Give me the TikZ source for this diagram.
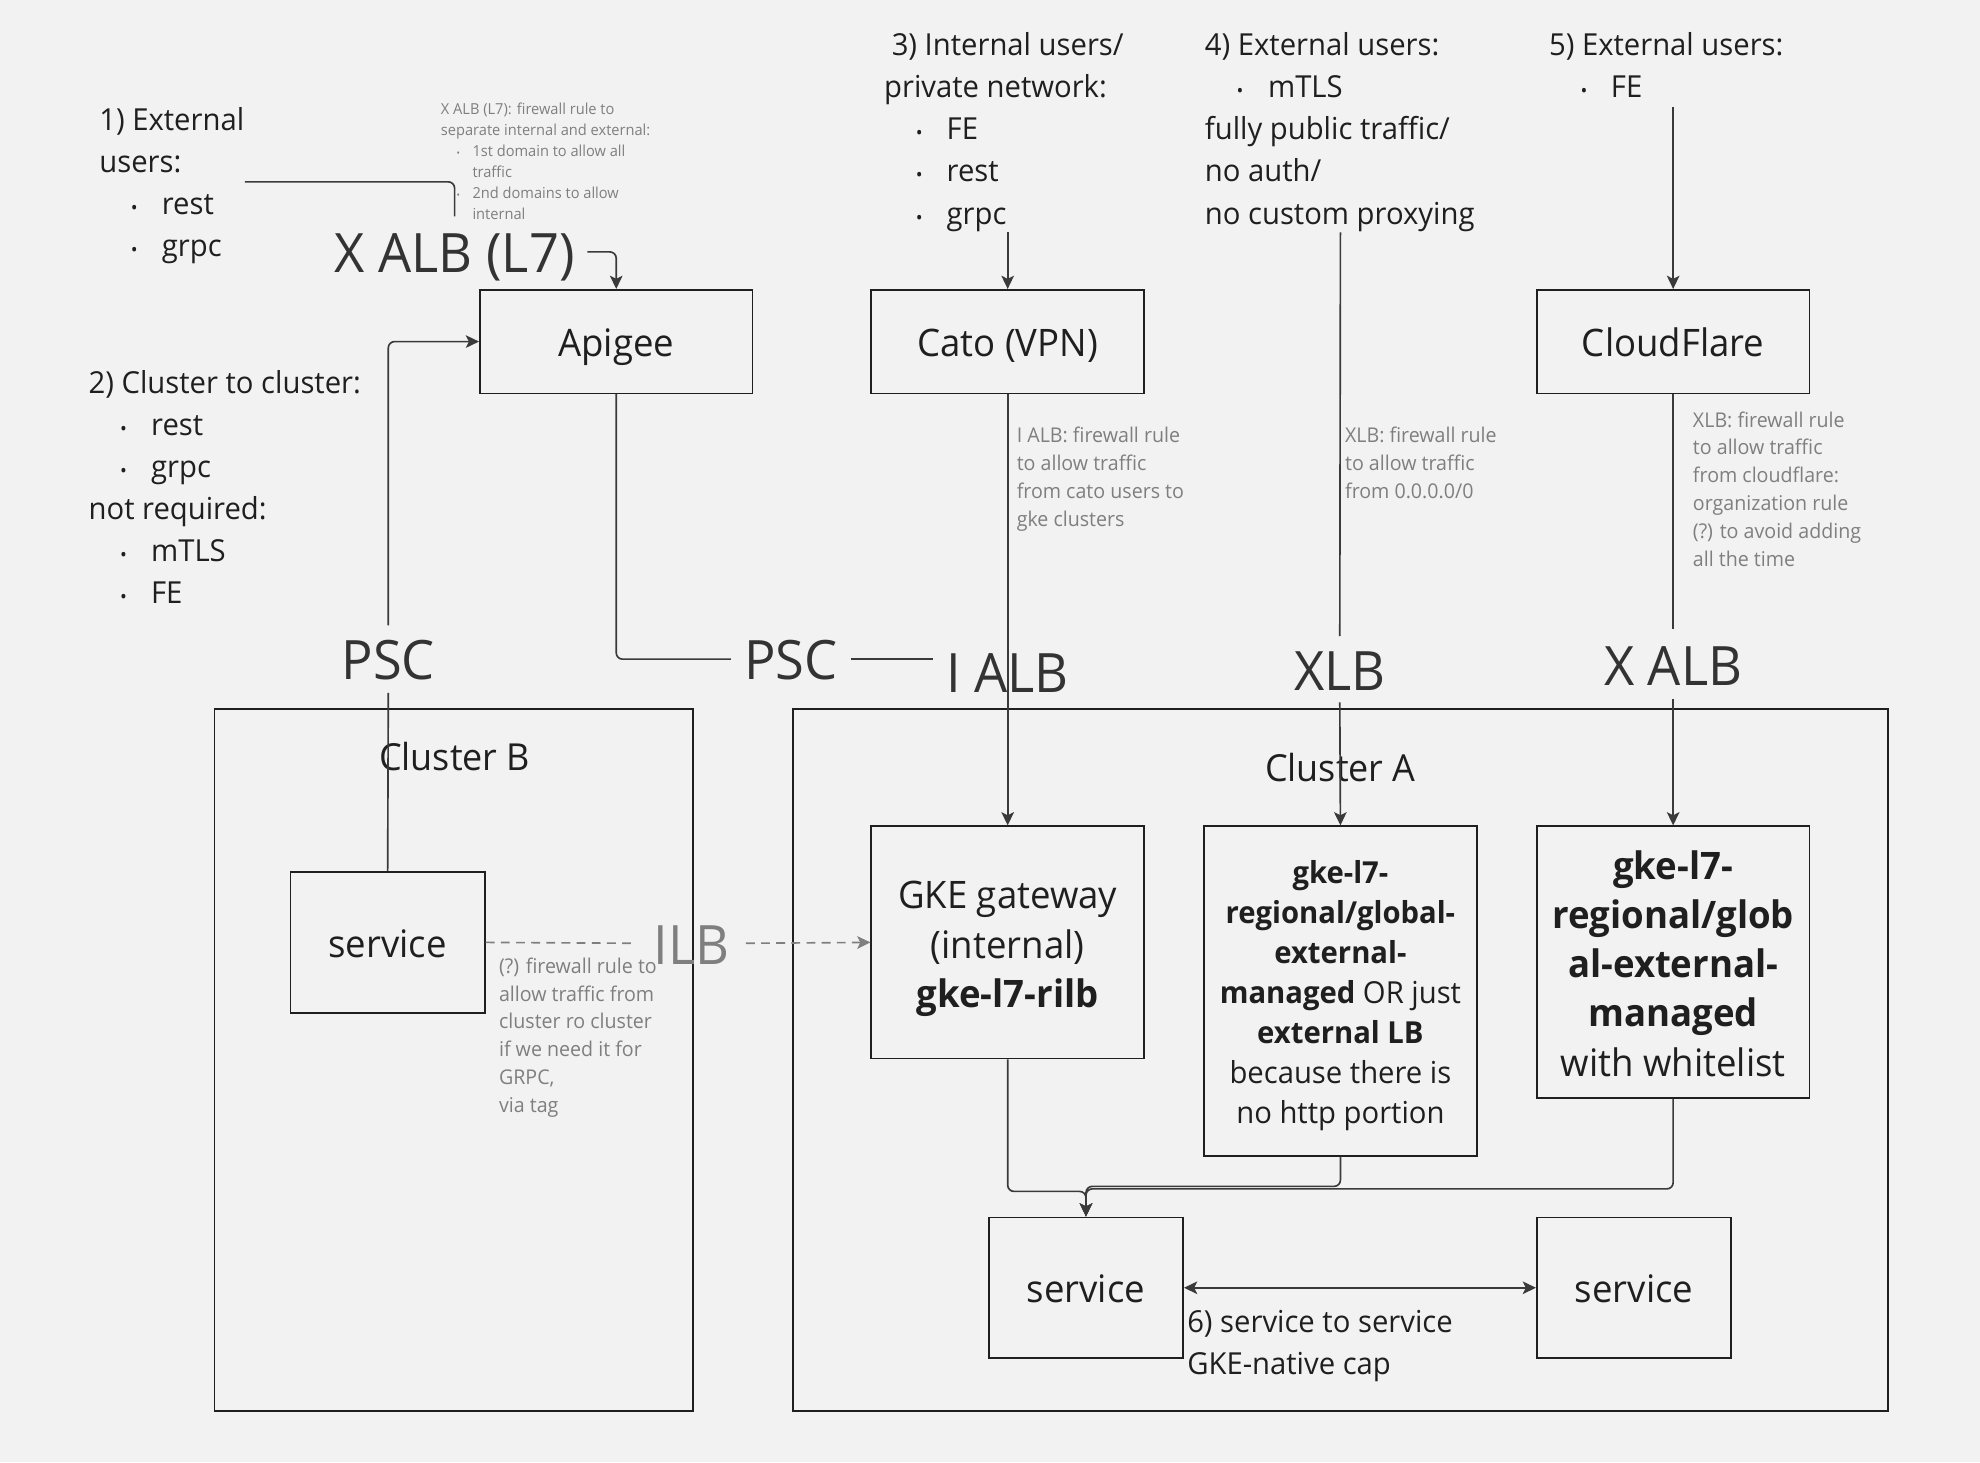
\documentclass[tikz,border=0pt]{standalone}
\usepackage{fontspec}
\setmainfont[FakeStretch=0.965]{Open Sans}
\usetikzlibrary{arrows.meta,calc}
\definecolor{bgc}{HTML}{F2F2F2}
\definecolor{ink}{HTML}{1F1F1F}
\definecolor{lab}{HTML}{333333}
\definecolor{note}{HTML}{7F7F7F}
\definecolor{edge}{HTML}{3A3A3A}
\newcommand\fst{\rule[-.3\baselineskip]{0pt}{\baselineskip}}
\newcommand\blt[2]{\hspace*{#1pt}\makebox[#2pt][l]{\scalebox{.62}{•}}}
\tikzset{
  txt/.style={inner sep=0pt,anchor=north west,align=left,text=ink,font=\fontsize{24}{33.3}\selectfont},
  nsm/.style={txt,text=note,font=\fontsize{16.1}{22.1}\selectfont},
  ntn/.style={txt,text=note,font=\fontsize{12}{16.6}\selectfont},
  big/.style={inner sep=0pt,text=lab,font=\fontsize{43}{50}\selectfont,text height=33pt,text depth=0pt},
  boxn/.style={draw=ink,line width=1.3pt,inner sep=0pt,align=center,text=ink},
  oneline/.style={text height=31pt,text depth=7pt},
  fs30/.style={font=\fontsize{30}{39}\selectfont},
  fs24/.style={font=\fontsize{24}{31.7}\selectfont},
  clust/.style={inner sep=0pt,text=ink,font=\fontsize{29.5}{36}\selectfont},
  link/.style={draw=edge,line width=1.3pt,rounded corners=5pt},
  arr/.style={link,-{Stealth[length=10.5pt,width=10pt,inset=2.5pt]}},
  dashlink/.style={draw=note,line width=1.3pt,dash pattern=on 7pt off 5pt},
}
\begin{document}
\begin{tikzpicture}[x=1pt,y=-1pt]
\fill[bgc] (0,0) rectangle (1568,1158);
\useasboundingbox (0,0) rectangle (1568,1158);

% clusters
\node[boxn,minimum width=379pt,minimum height=556pt] (clB) at (359.5,839.3) {};
\node[boxn,minimum width=867pt,minimum height=556pt] (clA) at (1061.5,839.3) {};
\node[clust] (clBt) at (360,599) {Cluster B};
\node[clust] (clAt) at (1061.5,608) {Cluster A};

% boxes
\node[boxn,fs30,oneline,minimum width=216pt,minimum height=82pt] (apigee) at (488,270.5) {Apigee};
\node[boxn,fs30,oneline,minimum width=216pt,minimum height=82pt] (cato) at (798,270.5) {Cato (VPN)};
\node[boxn,fs30,oneline,minimum width=216pt,minimum height=82pt] (cf) at (1325,270.5) {CloudFlare};
\node[boxn,fs30,oneline,minimum width=154pt,minimum height=112pt] (svcB) at (307,746.3) {service};
\node[boxn,fs30,minimum width=216pt,minimum height=184pt] (gw) at (798,746.3) {\rule{0pt}{32pt}GKE gateway\\(internal)\\\textbf{gke-l7-rilb}};
\node[boxn,fs24,minimum width=216pt,minimum height=261pt] (ext) at (1061.5,784.8) {\rule{0pt}{26pt}\textbf{gke-l7-}\\\textbf{regional/global-}\\\textbf{external-}\\\textbf{managed} OR just\\\textbf{external LB}\\because there is\\no http portion};
\node[boxn,fs30,minimum width=216pt,minimum height=215pt] (wl) at (1325,761.8) {\rule{0pt}{25pt}\textbf{gke-l7-}\\\textbf{regional/glob}\\\textbf{al-external-}\\\textbf{managed}\\with whitelist};
\node[boxn,fs30,oneline,minimum width=154pt,minimum height=111.5pt] (svc1) at (860,1019.8) {service};
\node[boxn,fs30,oneline,minimum width=154pt,minimum height=111.5pt] (svc2) at (1294,1019.8) {service};

% large labels
\node[big,minimum width=210pt,minimum height=56pt] (xl7) at (360,199.5) {X ALB (L7)};
\node[big,minimum width=80pt,minimum height=53pt] (psc1) at (307.5,522) {PSC};
\node[big,minimum width=95pt,minimum height=53pt] (psc2) at (626.5,522) {PSC};
\node[big,minimum width=118pt,minimum height=53pt] (ialb) at (798,532) {I ALB};
\node[big,minimum width=80pt,minimum height=52pt] (xlb) at (1061,530) {XLB};
\node[big,minimum width=120pt,minimum height=55pt] (xalb) at (1325,526) {X ALB};
\node[big,text=note,minimum width=86pt,minimum height=50pt] (ilb) at (547.5,747) {ILB};

% free ends
\coordinate (s1) at (194,144);
\coordinate (s3) at (798,184);
\coordinate (s4) at (1061.5,184);
\coordinate (s5) at (1325,85);

% connectors
\draw[link] (s1) -| (xl7.north);
\draw[arr] (xl7.east) -| (apigee.north);
\draw[arr] (psc1.north) |- (apigee.west);
\draw[link] (svcB.north) -- (psc1.south);
\draw[link] (apigee.south) |- (psc2.west);
\draw[link] (psc2.east) -- (ialb.west |- psc2.east);
\draw[arr] (s3) -- (cato.north);
\draw[arr] (cato.south) -- (gw.north);
\draw[link] (s4) -- (xlb.north);
\draw[arr] (xlb.south) -- (ext.north);
\draw[arr] (s5) -- (cf.north);
\draw[link] (cf.south) -- (xalb.north);
\draw[arr] (xalb.south) -- (wl.north);
\draw[arr] (gw.south) |- (860,943.5) -- (svc1.north);
\draw[arr] (ext.south) |- (860,939.5) -- (svc1.north);
\draw[arr] (wl.south) |- (860,941.5) -- (svc1.north);
\draw[link,{Stealth[length=10.5pt,width=10pt,inset=2.5pt]}-{Stealth[length=10.5pt,width=10pt,inset=2.5pt]}] (svc1.east) -- (svc2.west);
\draw[dashlink] (svcB.east) -- (ilb.west);
\draw[dashlink,-{Stealth[length=10.5pt,width=10pt,inset=2.5pt]}] (ilb.east) -- (gw.west);

% text blocks
\node[txt] (t1) at (78.5,79.7) {\fst 1) External\\users:\\\blt{25}{24.5}rest\\\blt{25}{24.5}grpc};
\node[txt] (t2) at (70,288.3) {\fst 2) Cluster to cluster:\\\blt{25}{24.5}rest\\\blt{25}{24.5}grpc\\not required:\\\blt{25}{24.5}mTLS\\\blt{25}{24.5}FE};
\node[txt] (t3) at (700,20.7) {\fst\hspace*{6pt}3) Internal users/\\private network:\\\blt{25}{24.5}FE\\\blt{25}{24.5}rest\\\blt{25}{24.5}grpc};
\node[txt] (t4) at (954,20.7) {\fst 4) External users:\\\blt{25}{25}mTLS\\fully public traffic/\\no auth/\\no custom proxying};
\node[txt] (t5) at (1226.5,20.7) {\fst 5) External users:\\\blt{25}{24}FE};
\node[txt] (t6) at (940,1031.5) {\fst 6) service to service\\GKE-native cap};

\node[ntn] (nx) at (349,79) {\fst X ALB (L7): firewall rule to\\separate internal and external:\\\blt{12.5}{12.5}1st domain to allow all\\\hspace*{25pt}traffic\\\blt{12.5}{12.5}2nd domains to allow\\\hspace*{25pt}internal};
\node[nsm] (ni) at (805,335) {\fst I ALB: firewall rule\\to allow traffic\\from cato users to\\gke clusters};
\node[nsm] (nl) at (1065,335) {\fst XLB: firewall rule\\to allow traffic\\from 0.0.0.0/0};
\node[nsm] (nc) at (1340.5,322.5) {\fst XLB: firewall rule\\to allow traffic\\from cloudflare:\\organization rule\\(?) to avoid adding\\all the time};
\node[nsm] (nb) at (395,755) {\fst (?) firewall rule to\\allow traffic from\\cluster ro cluster\\if we need it for\\GRPC,\\via tag};
\end{tikzpicture}
\end{document}
